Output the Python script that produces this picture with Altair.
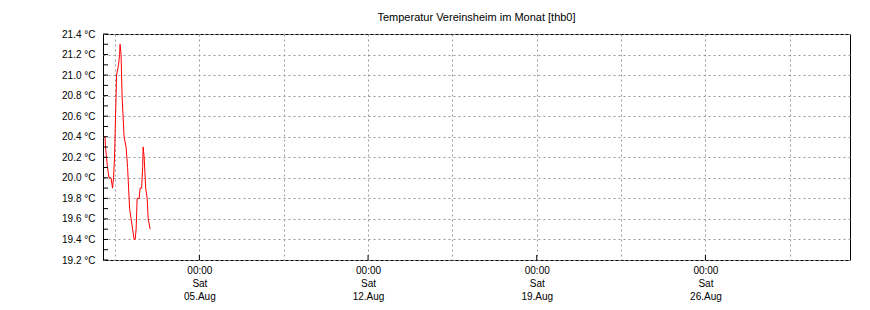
import altair as alt
import pandas as pd

# ---- data ----
hours_after_start = [2, 2.5, 3.5, 4.5, 6, 8, 9.5, 10.5, 11.5, 12.5, 13.5, 15.5, 16.5, 17,
                     18, 19, 21, 23, 24.5, 25.5, 26.5, 28, 29.5, 31, 32, 33, 34, 36, 37,
                     38.5, 39.5, 40, 41, 42.5, 44, 45, 47]
temps = [20.4, 20.3, 20.2, 20.1, 20.0, 20.0, 19.9, 20.0, 20.2, 20.6, 21.0, 21.1, 21.2, 21.3,
         21.2, 20.8, 20.4, 20.3, 20.1, 19.9, 19.7, 19.6, 19.5, 19.4, 19.4, 19.5, 19.8, 19.8, 19.9,
         19.9, 20.1, 20.3, 20.2, 19.9, 19.8, 19.6, 19.5]
start = pd.Timestamp("2023-08-01 00:00")
x_domain = ["2023-08-01T00:00:00", "2023-09-01T00:00:00"]
y_domain = [19.2, 21.4]
y_label_values = [round(19.2 + 0.2 * i, 1) for i in range(12)]
y_tick_values = [round(19.2 + 0.1 * i, 1) for i in range(23)]
x_grid_values = ["2023-08-01T12:00:00", "2023-08-05T00:00:00", "2023-08-08T12:00:00",
                 "2023-08-12T00:00:00", "2023-08-15T12:00:00", "2023-08-19T00:00:00",
                 "2023-08-22T12:00:00", "2023-08-26T00:00:00", "2023-08-29T12:00:00"]
x_major_values = ["2023-08-05T00:00:00", "2023-08-12T00:00:00",
                  "2023-08-19T00:00:00", "2023-08-26T00:00:00"]
title = "Temperatur Vereinsheim im Monat [thb0]"

times = [(start + pd.Timedelta(hours=h)).strftime("%Y-%m-%dT%H:%M:%S") for h in hours_after_start]
df = pd.DataFrame({"t": times, "v": temps})

def dt(s):
    ts = pd.Timestamp(s)
    return alt.DateTime(year=ts.year, month=ts.month, date=ts.day, hours=ts.hour, minutes=ts.minute)

xscale = alt.Scale(domain=[dt(s) for s in x_domain], nice=False)
yscale = alt.Scale(domain=y_domain, nice=False, zero=False)

W, H = 747, 226

x_axis = alt.Axis(values=[dt(s) for s in x_grid_values], grid=True, gridColor="#999999",
                  gridDash=[2, 3], gridWidth=1, ticks=False, domain=False,
                  labelExpr="hours(datum.value) == 0 ? [timeFormat(datum.value, '%H:%M'), timeFormat(datum.value, '%a'), timeFormat(datum.value, '%d.%b')] : ''",
                  labelLineHeight=13, labelPadding=5, labelOverlap=False,
                  labelFontSize=10, labelColor="#000000", labelBaseline="top")
y_axis = alt.Axis(values=y_label_values, grid=True, gridColor="#999999",
                  gridDash=[2, 3], gridWidth=1, ticks=False, domain=False,
                  labelExpr="format(datum.value, '.1f') + ' °C'",
                  labelPadding=8, labelFontSize=10, labelColor="#000000")

line = alt.Chart(df).mark_line(color="#ff0000", strokeWidth=1).encode(
    x=alt.X("t:T", scale=xscale, title=None, axis=x_axis),
    y=alt.Y("v:Q", scale=yscale, title=None, axis=y_axis),
)

yticks = alt.Chart(pd.DataFrame({"v": y_tick_values})).mark_rule(color="#000000", strokeWidth=1).encode(
    y=alt.Y("v:Q", scale=yscale, title=None, axis=y_axis),
    x=alt.value(0), x2=alt.value(5),
)

xticks = alt.Chart(pd.DataFrame({"t": x_major_values})).mark_rule(color="#000000", strokeWidth=1).encode(
    x=alt.X("t:T", scale=xscale, title=None, axis=x_axis),
    y=alt.value(H), y2=alt.value(H - 5),
)

chart = alt.layer(line, yticks, xticks).properties(
    width=W, height=H,
    title=alt.TitleParams(title, fontSize=11, fontWeight="normal", anchor="middle", offset=6, color="#000000"),
    autosize=alt.AutoSizeParams(type="none"),
    padding={"left": 103, "top": 34, "right": 20, "bottom": 50},
).configure(font="Liberation Sans").configure_view(stroke="#000000", strokeWidth=1)

chart.save("out.html", embed_options={"renderer": "svg", "actions": False})
